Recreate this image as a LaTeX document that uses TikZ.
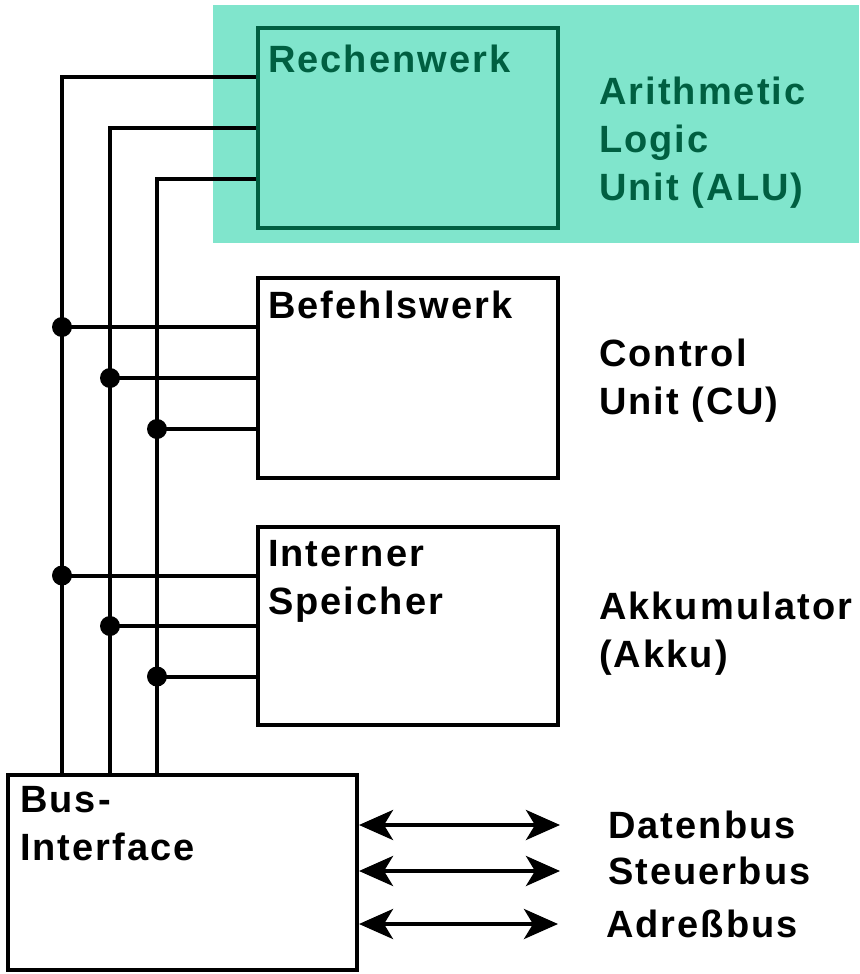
\documentclass[tikz,border=0pt]{standalone}
\usepackage{fontspec}
\setmainfont{Liberation Sans}[LetterSpace=5.5]
\usetikzlibrary{
    arrows.meta,
    calc,
    positioning
}
\definecolor{alubg}{RGB}{128,229,204}
\definecolor{aludark}{RGB}{0,95,65}

\begin{document}
\begin{tikzpicture}[
x=1pt, y=-1pt,
line width=4pt,
box/.style={
draw,
minimum width=300pt,
minimum height=200pt,
inner sep=0pt
},
title/.style={
anchor=north west,
inner sep=0pt,
align=left,
font=\fontsize{38}{48}\selectfont\bfseries
},
busarrow/.style={
{Stealth[length=34pt,width=30pt,inset=9pt]}-{Stealth[length=34pt,width=30pt,inset=9pt]}
}
]

\useasboundingbox (0,0) rectangle (859,974);

% ALU area
\fill[alubg] (213,5) rectangle (859,243);

\node[box, draw=aludark] (alu) at (408,128) {};
\node[box] (cu) at (408,378) {};
\node[box, minimum height=198pt] (mem) at (408,626) {};
\node[box, minimum width=349pt, minimum height=195pt] (biu) at (182.5,872.5) {};

\node[title, text=aludark] (alu-name)
at ([shift={(10pt,-17pt)}]alu.north west) {Rechenwerk};
\node[title] (cu-name)
at ([shift={(10pt,-13pt)}]cu.north west) {Befehlswerk};
\node[title] (mem-name)
at ([shift={(10pt,-13pt)}]mem.north west) {Interner\\Speicher};
\node[title] (biu-name)
at ([shift={(12pt,-11pt)}]biu.north west) {Bus-\\Interface};

\node[title, text=aludark] (alu-desc) at (597,75)
{Arithmetic\\Logic\\Unit (ALU)};
\node[title] (cu-desc) at (597,337)
{Control\\Unit (CU)};
\node[title] (mem-desc) at (597,590)
{Akkumulator\\(Akku)};

\node[title, anchor=west] (dbus) at (606,825) {Datenbus};
\node[title, anchor=west] (sbus) at (606,871) {Steuerbus};
\node[title, anchor=west] (abus) at (604,924) {Adreßbus};

% internal bus lines
\foreach \i/\dx in {1/56, 2/104, 3/151}
  \coordinate (rail\i) at ([xshift=\dx pt]biu.north west);

\foreach \i/\f in {1/0.25, 2/0.5, 3/0.75} {
  \coordinate (alu-\i) at ($(alu.north west)!\f!(alu.south west)$);
  \draw (rail\i) |- (alu-\i);
  \foreach \b in {cu, mem} {
    \coordinate (\b-\i) at ($(\b.north west)!\f!(\b.south west)$);
    \draw (rail\i |- \b-\i) -- (\b-\i);
    \fill (rail\i |- \b-\i) circle (10pt);
  }
}

% external buses
\foreach \n in {dbus, sbus, abus}
  \draw[busarrow] (biu.east |- \n.west) -- ([xshift=-46pt]\n.west);

\end{tikzpicture}
\end{document}
